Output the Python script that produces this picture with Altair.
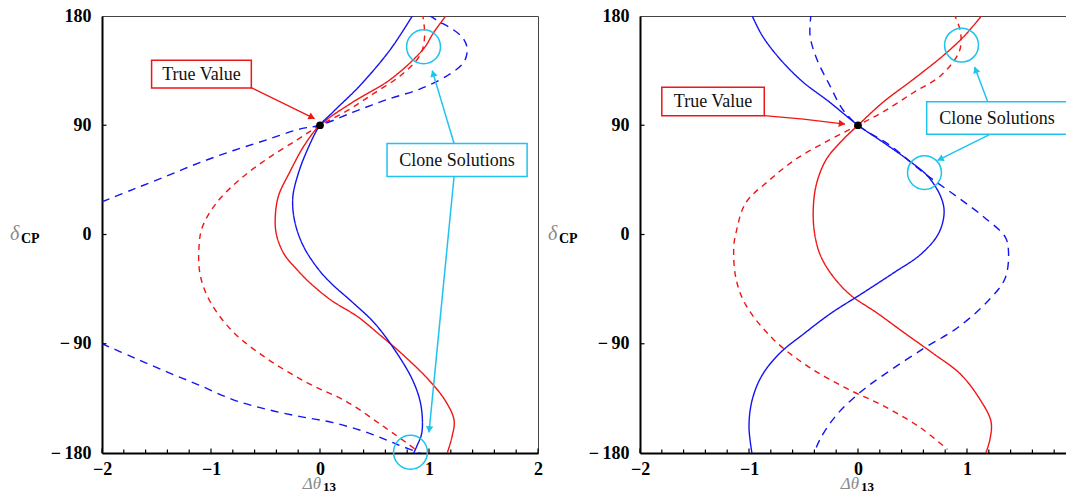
import math
import altair as alt
import pandas as pd

# ---------------- values ----------------
# Left panel curves (x = Δθ13, y = δCP)
L_RED_SOLID_X = [1.17, 1.04, 0.95, 0.65, 0.30, 0.0, -0.14, -0.28, -0.38, -0.41, -0.40, -0.33, -0.20, -0.09, 0.10, 0.35, 0.54, 0.76, 1.00, 1.15, 1.23, 1.21, 1.16]
L_RED_SOLID_Y = [182, 166, 153, 128, 109, 90, 74, 51, 32, 15, 0, -16, -30, -40, -54, -68, -82, -99, -120, -137, -153, -167, -182]
L_RED_DASH_X = [0.94, 0.96, 0.92, 0.74, 0.49, 0.25, 0.0, -0.21, -0.49, -0.74, -0.95, -1.08, -1.11, -1.10, -1.01, -0.80, -0.49, -0.12, 0.25, 0.58, 0.80, 0.89]
L_RED_DASH_Y = [182, 164, 148, 131, 116, 102, 90, 78, 62, 45, 26, 6, -10, -33, -55, -80, -102, -122, -138, -158, -172, -178]
L_BLUE_SOLID_X = [0.86, 0.65, 0.37, 0.12, 0.0, -0.10, -0.20, -0.25, -0.23, -0.15, -0.02, 0.10, 0.30, 0.50, 0.70, 0.85, 0.92, 0.94, 0.93, 0.89, 0.845]
L_BLUE_SOLID_Y = [182, 153, 123, 101, 90, 73, 50, 30, 10, -10, -28, -40, -56, -73, -97, -120, -138, -155, -165, -174, -183]
L_BLUE_DASH_A_X = [-2.0, -1.72, -1.41, -1.11, -0.80, -0.49, -0.18, 0.0, 0.31, 0.61, 0.92, 1.17, 1.32, 1.35, 1.31, 1.20, 1.08, 0.98]
L_BLUE_DASH_A_Y = [27, 37, 48, 59, 69, 78, 87, 90, 101, 111, 120, 131, 142, 153, 162, 170, 176, 182]
L_BLUE_DASH_B_X = [0.97, 0.71, 0.43, 0.12, -0.18, -0.49, -0.80, -1.11, -1.41, -1.72, -2.0]
L_BLUE_DASH_B_Y = [-182, -173, -163, -155, -150, -144, -136, -124, -113, -101, -90]

# Right panel curves
R_BLUE_SOLID_X = [-0.98, -0.88, -0.72, -0.51, -0.26, 0.0, 0.23, 0.45, 0.64, 0.76, 0.79, 0.74, 0.58, 0.32, 0.03, -0.25, -0.50, -0.72, -0.88, -0.97, -1.00, -0.97]
R_BLUE_SOLID_Y = [182, 164, 145, 126, 109, 90, 76, 62, 48, 31, 18, 1, -16, -32, -49, -65, -82, -98, -116, -136, -158, -182]
R_BLUE_DASH_X = [-0.43, -0.44, -0.38, -0.26, -0.14, 0.0, 0.30, 0.60, 0.91, 1.16, 1.35, 1.38, 1.35, 1.19, 0.91, 0.60, 0.23, 0.02, -0.20, -0.35, -0.41]
R_BLUE_DASH_Y = [182, 164, 145, 123, 103, 90, 73, 51, 31, 14, -2, -13, -36, -55, -77, -94, -116, -130, -149, -169, -182]
R_RED_SOLID_X = [1.15, 0.98, 0.79, 0.51, 0.23, 0.0, -0.14, -0.29, -0.38, -0.41, -0.40, -0.35, -0.25, -0.08, 0.18, 0.44, 0.69, 0.94, 1.12, 1.22, 1.21, 1.16]
R_RED_SOLID_Y = [182, 164, 148, 128, 109, 90, 78, 62, 42, 22, 2, -16, -32, -49, -65, -82, -98, -115, -136, -154, -169, -183]
R_RED_DASH_X = [0.88, 0.94, 0.93, 0.76, 0.51, 0.23, 0.0, -0.26, -0.57, -0.81, -1.03, -1.12, -1.14, -1.12, -1.03, -0.78, -0.47, -0.10, 0.23, 0.57, 0.82]
R_RED_DASH_Y = [182, 167, 151, 131, 117, 101, 90, 78, 62, 45, 26, 1, -11, -36, -58, -86, -108, -127, -141, -159, -177]

# True value marker
TRUE_X = [0.0]
TRUE_Y = [90]

# Annotation labels and their anchors (data units)
LABELS = ["True Value", "Clone Solutions"]
L_BOX_X1 = [-1.545, 0.615]
L_BOX_X2 = [-0.63, 1.90]
L_BOX_Y1 = [120.6, 47.8]
L_BOX_Y2 = [143.6, 75.0]
R_BOX_X1 = [-1.80, 0.63]
R_BOX_X2 = [-0.86, 1.92]
R_BOX_Y1 = [97.75, 82.5]
R_BOX_Y2 = [121.4, 109.4]

L_CIRCLE_X = [0.95, 0.83]
L_CIRCLE_Y = [154.7, -179.4]
R_CIRCLE_X = [0.95, 0.61]
R_CIRCLE_Y = [156, 51]

L_RED_ARROW_X = [-0.63, -0.05]
L_RED_ARROW_Y = [121, 95.5]
R_RED_ARROW_X = [-0.86, -0.50, -0.12]
R_RED_ARROW_Y = [98, 95, 91]

L_CYAN_ARROWS = [([1.23, 1.03], [75, 135]), ([1.23, 1.00], [47.8, -163])]
R_CYAN_ARROWS = [([1.19, 1.07], [109.4, 138]), ([1.21, 0.73], [82.5, 61])]

X_MAJOR = [-2, -1, 0, 1, 2]
X_MINOR = [-1.8, -1.6, -1.4, -1.2, -0.8, -0.6, -0.4, -0.2, 0.2, 0.4, 0.6, 0.8, 1.2, 1.4, 1.6, 1.8]
Y_TICKS = [-180, -90, 0, 90, 180]
Y_INNER_TICKS = [-90, 0, 90]

# ---------------- styling ----------------
W, H = 436, 437
RED = "#f01616"
BLUE = "#1414f0"
CYAN = "#1ec3ee"
SERIF = "Liberation Serif"
PX_X = W / 4.0
PX_Y = H / 360.0

XS = alt.Scale(domain=[-2, 2], nice=False, zero=False)
YS = alt.Scale(domain=[-180, 180], nice=False, zero=False)
XA = alt.Axis(values=X_MAJOR, title=None, labelFlush=False, labelOverlap=False, labelPadding=7,
              labelExpr="datum.value < 0 ? '\u2212' + abs(datum.value) : '' + datum.value")
YA = alt.Axis(values=Y_TICKS, title=None, labelFlush=False, labelOverlap=False, labelPadding=11,
              labelExpr="datum.value < 0 ? '\u2212\u2009' + abs(datum.value) : '' + datum.value")


def X(field):
    return alt.X(field, type="quantitative", scale=XS, axis=XA)


def Y(field):
    return alt.Y(field, type="quantitative", scale=YS, axis=YA)


def curves_df(curves):
    rows = []
    for name, xs, ys, color, dash in curves:
        for i, (x, y) in enumerate(zip(xs, ys)):
            rows.append(dict(curve=name, x=x, y=y, order=i, color=color, dash=dash))
    return pd.DataFrame(rows)


def arrow_heads(paths, color):
    rows = []
    for xs, ys in paths:
        dx = (xs[-1] - xs[-2]) * PX_X
        dy = (ys[-1] - ys[-2]) * PX_Y
        ang = math.degrees(math.atan2(dx, dy)) % 360
        back = 4.0
        cx = xs[-1] - back * math.sin(math.radians(ang)) / PX_X
        cy = ys[-1] - back * math.cos(math.radians(ang)) / PX_Y
        rows.append(dict(x=cx, y=cy, angle=ang, color=color))
    return pd.DataFrame(rows)


def paths_df(paths, color):
    rows = []
    for k, (xs, ys) in enumerate(paths):
        for i, (x, y) in enumerate(zip(xs, ys)):
            rows.append(dict(path=k, x=x, y=y, order=i, color=color))
    return pd.DataFrame(rows)


def panel(curves, bx1, bx2, by1, by2, cx, cy, red_arrow, cyan_arrows):
    df = curves_df(curves)
    lines = alt.Chart(df).mark_line(clip=True, strokeWidth=1.4, interpolate="catmull-rom").encode(
        x=X("x"), y=Y("y"),
        color=alt.Color("color:N", scale=None),
        strokeDash=alt.StrokeDash("dash:N", scale=alt.Scale(domain=["solid", "dash_r", "dash_b"],
                                                            range=[[1, 0], [6, 5], [8, 6]]), legend=None),
        detail="curve:N",
        order="order:Q",
    )

    boxes_df = pd.DataFrame(dict(label=LABELS, x1=bx1, x2=bx2, y1=by1, y2=by2,
                                 color=[RED, CYAN]))
    boxes_df["xm"] = (boxes_df.x1 + boxes_df.x2) / 2
    boxes_df["ym"] = (boxes_df.y1 + boxes_df.y2) / 2
    boxes = alt.Chart(boxes_df).mark_rect(fill="white", strokeWidth=1.5).encode(
        x=X("x1"), x2="x2", y=Y("y1"), y2="y2",
        stroke=alt.Color("color:N", scale=None))
    box_text = alt.Chart(boxes_df).mark_text(font=SERIF, fontSize=18, color="#111", baseline="middle", dy=1).encode(
        x=X("xm"), y=Y("ym"), text="label:N")

    circ = alt.Chart(pd.DataFrame(dict(x=cx, y=cy))).mark_point(
        shape="circle", size=1150, filled=False, color=CYAN, strokeWidth=1.5, opacity=1).encode(x=X("x"), y=Y("y"))

    ra = paths_df([red_arrow], RED)
    red_line = alt.Chart(ra).mark_line(color=RED, strokeWidth=1.3).encode(
        x=X("x"), y=Y("y"), detail="path:N", order="order:Q")
    red_head = alt.Chart(arrow_heads([red_arrow], RED)).mark_point(
        shape="triangle", size=55, filled=True, color=RED, opacity=1).encode(
        x=X("x"), y=Y("y"), angle=alt.Angle("angle:Q", scale=None))

    ca = paths_df(cyan_arrows, CYAN)
    cyan_line = alt.Chart(ca).mark_line(color=CYAN, strokeWidth=1.5).encode(
        x=X("x"), y=Y("y"), detail="path:N", order="order:Q")
    cyan_head = alt.Chart(arrow_heads(cyan_arrows, CYAN)).mark_point(
        shape="triangle", size=55, filled=True, color=CYAN, opacity=1).encode(
        x=X("x"), y=Y("y"), angle=alt.Angle("angle:Q", scale=None))

    dot = alt.Chart(pd.DataFrame(dict(x=TRUE_X, y=TRUE_Y))).mark_point(
        shape="circle", size=60, filled=True, color="black", opacity=1).encode(x=X("x"), y=Y("y"))

    xt_major = alt.Chart(pd.DataFrame(dict(t=X_MAJOR))).mark_rule(color="black", strokeWidth=1.2).encode(
        x=X("t"), y=alt.value(H), y2=alt.value(H - 4.5))
    xt_minor = alt.Chart(pd.DataFrame(dict(t=X_MINOR))).mark_rule(color="black", strokeWidth=1.2).encode(
        x=X("t"), y=alt.value(H), y2=alt.value(H - 3.5))
    yt = alt.Chart(pd.DataFrame(dict(t=Y_INNER_TICKS))).mark_rule(color="black", strokeWidth=1.2).encode(
        y=Y("t"), x=alt.value(0), x2=alt.value(4.5))

    one = pd.DataFrame(dict(a=[0]))
    delta = alt.Chart(one).mark_text(text="δ", font=SERIF, fontStyle="italic", fontSize=20, color="#8a8a8a",
                                     align="left", baseline="middle").encode(x=alt.value(-92), y=alt.value(H / 2 - 1))
    cp = alt.Chart(one).mark_text(text="CP", font=SERIF, fontWeight="bold", fontSize=14, color="black",
                                  align="left", baseline="middle").encode(x=alt.value(-81), y=alt.value(H / 2 + 4))
    dth = alt.Chart(one).mark_text(text="Δθ", font=SERIF, fontStyle="italic", fontSize=17, color="#8a8a8a",
                                   align="right", baseline="middle").encode(x=alt.value(W / 2 + 1), y=alt.value(H + 31))
    d13 = alt.Chart(one).mark_text(text="13", font=SERIF, fontWeight="bold", fontSize=13, color="black",
                                   align="left", baseline="middle").encode(x=alt.value(W / 2 + 3), y=alt.value(H + 34))

    return alt.layer(lines, red_line, cyan_line, boxes, box_text, circ, red_head, cyan_head, dot,
                     xt_major, xt_minor, yt, delta, cp, dth, d13).properties(width=W, height=H)


left = panel(
    [("rs", L_RED_SOLID_X, L_RED_SOLID_Y, RED, "solid"),
     ("rd", L_RED_DASH_X, L_RED_DASH_Y, RED, "dash_r"),
     ("bs", L_BLUE_SOLID_X, L_BLUE_SOLID_Y, BLUE, "solid"),
     ("bda", L_BLUE_DASH_A_X, L_BLUE_DASH_A_Y, BLUE, "dash_b"),
     ("bdb", L_BLUE_DASH_B_X, L_BLUE_DASH_B_Y, BLUE, "dash_b")],
    L_BOX_X1, L_BOX_X2, L_BOX_Y1, L_BOX_Y2, L_CIRCLE_X, L_CIRCLE_Y,
    (L_RED_ARROW_X, L_RED_ARROW_Y), L_CYAN_ARROWS)

right = panel(
    [("rs", R_RED_SOLID_X, R_RED_SOLID_Y, RED, "solid"),
     ("rd", R_RED_DASH_X, R_RED_DASH_Y, RED, "dash_r"),
     ("bs", R_BLUE_SOLID_X, R_BLUE_SOLID_Y, BLUE, "solid"),
     ("bd", R_BLUE_DASH_X, R_BLUE_DASH_Y, BLUE, "dash_b")],
    R_BOX_X1, R_BOX_X2, R_BOX_Y1, R_BOX_Y2, R_CIRCLE_X, R_CIRCLE_Y,
    (R_RED_ARROW_X, R_RED_ARROW_Y), R_CYAN_ARROWS)

chart = alt.hconcat(left, right, spacing=4).properties(
    autosize=alt.AutoSizeParams(type="none"),
    padding={"left": 94, "top": 8, "right": 964, "bottom": 478},
    background="white",
).configure_view(stroke="#444", strokeWidth=1).configure_axis(
    labelFont=SERIF, labelFontWeight="bold", labelFontSize=18, labelColor="black",
    ticks=False, grid=False, domainColor="black", domainWidth=2,
)

chart.save("out.html", embed_options={"renderer": "svg", "actions": False})
